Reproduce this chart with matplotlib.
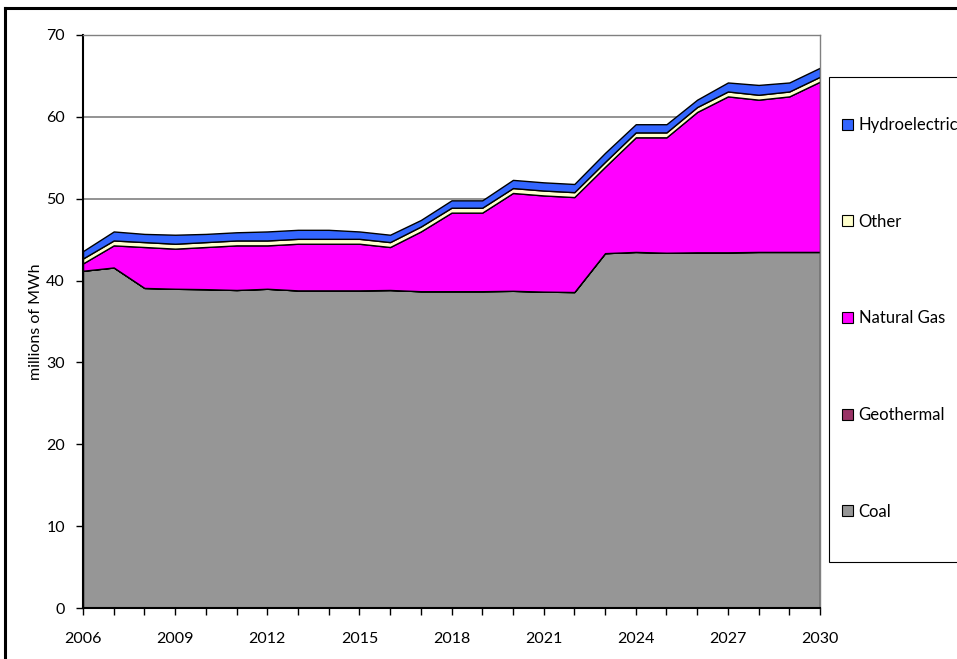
import matplotlib
matplotlib.use("Agg")
import matplotlib.pyplot as plt
from matplotlib.patches import Patch, Rectangle
from matplotlib.lines import Line2D

plt.rcParams['font.family'] = ['Lato', 'DejaVu Sans']

# data (millions of MWh)
years = list(range(2006, 2031))
coal = [41.2, 41.6, 39.1, 39.0, 38.95, 38.85, 39.0, 38.8, 38.8, 38.8, 38.85, 38.7, 38.7,
        38.7, 38.75, 38.65, 38.6, 43.35, 43.5, 43.4, 43.45, 43.45, 43.5, 43.5, 43.5]
geothermal = [0.0] * 25
gas = [0.9, 2.7, 5.0, 4.9, 5.15, 5.45, 5.3, 5.7, 5.7, 5.7, 5.25, 7.3, 9.6,
       9.6, 11.95, 11.75, 11.6, 10.55, 14.0, 14.1, 17.15, 19.05, 18.6, 19.0, 20.8]
other = [0.6, 0.6, 0.6, 0.6, 0.6, 0.6, 0.6, 0.6, 0.6, 0.6, 0.6, 0.6, 0.6,
         0.6, 0.6, 0.6, 0.6, 0.6, 0.6, 0.6, 0.6, 0.6, 0.6, 0.6, 0.6]
hydro = [0.9, 1.1, 1.0, 1.1, 1.0, 1.0, 1.1, 1.1, 1.1, 0.9, 0.9, 0.8, 0.9,
         0.9, 1.0, 1.0, 1.0, 1.1, 1.0, 1.0, 0.9, 1.1, 1.2, 1.1, 1.1]

series_names = ["Coal", "Geothermal", "Natural Gas", "Other", "Hydroelectric"]
series_colors = ["#969696", "#993366", "#FF00FF", "#FFFFCC", "#3366FF"]

fig = plt.figure(figsize=(9.57, 6.59), dpi=100)
ax = fig.add_axes([83/957, 1 - 608/659, (820 - 83)/957, (608 - 35)/659])

ax.stackplot(years, coal, geothermal, gas, other, hydro,
             colors=series_colors, edgecolor='black', linewidth=1.0)

ax.set_xlim(2006, 2030)
ax.set_ylim(0, 70)
ax.set_yticks(range(0, 71, 10))
ax.set_xticks(years)
ax.set_xticklabels([str(y) if (y - 2006) % 3 == 0 else '' for y in years])
ax.yaxis.grid(True, color='#808080', linewidth=1.2)
ax.set_axisbelow(True)

for s in ['top', 'right']:
    ax.spines[s].set_color('#808080')
    ax.spines[s].set_linewidth(1.0)
for s in ['left', 'bottom']:
    ax.spines[s].set_color('black')
    ax.spines[s].set_linewidth(1.5)
ax.spines['bottom'].set_zorder(5)

ax.tick_params(axis='both', direction='out', length=5, width=1, color='black',
               labelsize=11.5)
ax.tick_params(axis='x', pad=12)
ax.tick_params(axis='y', pad=8)
ax.set_ylabel("millions of MWh", fontsize=11.5, labelpad=2)

# legend box (runs off the right edge like the original)
fig.add_artist(Rectangle((829/957, 1 - 562/659), 0.2, (562 - 77)/659,
                         transform=fig.transFigure, facecolor='white',
                         edgecolor='black', linewidth=0.8))

handles = [Patch(facecolor=c, edgecolor='black', linewidth=0.8)
           for c in series_colors][::-1]
leg = fig.legend(handles, series_names[::-1], loc='upper left',
                 bbox_to_anchor=(842/957, 1 - 117/659), frameon=False,
                 fontsize=12, handlelength=0.65, handleheight=0.65,
                 handletextpad=0.35, labelspacing=4.84, borderpad=0, borderaxespad=0)

# outer chart frame
fig.add_artist(Line2D([5/957, 5/957], [0, 1 - 8/659], color='black', linewidth=2.2,
                      transform=fig.transFigure))
fig.add_artist(Line2D([5/957, 1], [1 - 8/659, 1 - 8/659], color='black', linewidth=2.2,
                      transform=fig.transFigure))

fig.savefig("out.png", dpi=100)
